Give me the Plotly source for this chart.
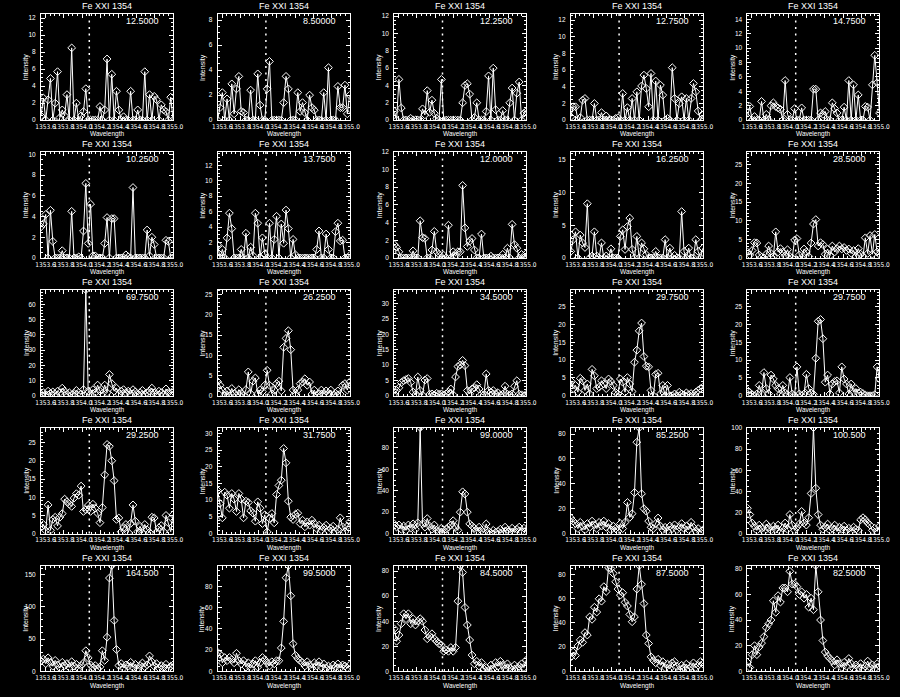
import plotly.graph_objects as go

# ---------------- data ----------------
WAVELENGTH = [
    1353.5500, 1353.5759, 1353.6018, 1353.6277, 1353.6536, 1353.6795, 1353.7054, 1353.7313, 1353.7571, 1353.7830,
    1353.8089, 1353.8348, 1353.8607, 1353.8866, 1353.9125, 1353.9384, 1353.9643, 1353.9902, 1354.0161, 1354.0420,
    1354.0679, 1354.0938, 1354.1196, 1354.1455, 1354.1714, 1354.1973, 1354.2232, 1354.2491, 1354.2750, 1354.3009,
    1354.3268, 1354.3527, 1354.3786, 1354.4045, 1354.4304, 1354.4563, 1354.4821, 1354.5080, 1354.5339, 1354.5598,
    1354.5857, 1354.6116, 1354.6375, 1354.6634, 1354.6893, 1354.7152, 1354.7411, 1354.7670, 1354.7929, 1354.8188,
    1354.8446, 1354.8705, 1354.8964, 1354.9223, 1354.9482, 1354.9741, 1355.0000,
]

X_RANGE = [1353.55, 1355.0]
X_TICKS = [1353.6, 1353.8, 1354.0, 1354.2, 1354.4, 1354.6, 1354.8, 1355.0]
X_TICK_LABELS = ["1353.6", "1353.8", "1354.0", "1354.2", "1354.4", "1354.6", "1354.8", "1355.0"]
REST_WAVELENGTH = 1354.08
PANEL_TITLE = "Fe XXI 1354"
X_TITLE = "Wavelength"
Y_TITLE = "Intensity"

PEAKS = [12.5, 8.5, 12.25, 12.75, 14.75,
         10.25, 13.75, 12.0, 16.25, 28.5,
         69.75, 26.25, 34.5, 29.75, 29.75,
         29.25, 31.75, 99.0, 85.25, 100.5,
         164.5, 99.5, 84.5, 87.5, 82.5]
Y_DTICK = [2, 2, 2, 2, 2,
           2, 2, 2, 5, 5,
           10, 5, 5, 5, 5,
           5, 5, 20, 20, 20,
           50, 20, 20, 20, 20]

INTENSITY_R1C1 = [0.5, 2.6, 0, 2.4, 4.9, 0, 2.0, 5.7, 0.3, 1.2,
                  0.5, 3.0, 0, 8.5, 0, 2.0, 0, 0.5, 1.0, 3.7,
                  0, 0, 0, 0, 0, 1.6, 0, 1.2, 7.2, 0,
                  5.4, 0, 3.4, 1.2, 0, 0.4, 0, 0, 3.4, 0,
                  0, 1.2, 0, 0, 5.7, 0, 3.0, 0, 2.8, 2.4,
                  0, 1.8, 1.2, 1.0, 0, 2.7, 0]
INTENSITY_R1C2 = [0, 1.0, 2.2, 0, 1.7, 0, 2.9, 0.5, 2.5, 3.5,
                  0.7, 0.6, 0, 0, 2.4, 0, 0, 3.7, 1.2, 0,
                  0, 2.5, 4.7, 0, 0, 0, 0, 0, 1.4, 3.5,
                  2.5, 0, 0, 0, 2.2, 0.7, 1.4, 0.6, 0, 2.0,
                  1.0, 0.8, 0, 0, 0, 2.2, 0, 4.2, 0, 0,
                  0, 2.7, 1.0, 1.0, 2.8, 0.5, 2.0]
INTENSITY_R1C3 = [1.0, 0, 4.7, 1.4, 0, 0, 0, 0.2, 0, 0,
                  0, 0, 1.3, 0.6, 3.4, 0.9, 2.3, 0.8, 0.2, 0,
                  4.7, 0, 0, 0, 0, 0, 0, 0, 0, 2.0,
                  4.0, 4.2, 3.0, 0, 0.3, 2.0, 0, 0, 0, 1.0,
                  5.1, 0, 6.0, 1.2, 0, 0, 1.1, 0, 0, 2.0,
                  3.7, 0, 3.1, 4.4, 0, 0.8, 1.0]
INTENSITY_R1C4 = [0.4, 1.6, 1.6, 0, 0.3, 2.4, 2.6, 0, 0, 0,
                  2.0, 0, 0, 0.9, 0, 0.5, 0, 0, 0, 0.2,
                  0.3, 0, 3.2, 0, 1.5, 0, 2.6, 0, 3.4, 0,
                  4.1, 5.4, 3.8, 1.6, 5.6, 0, 4.7, 0, 4.2, 3.0,
                  0, 0.2, 0, 6.3, 2.6, 0, 2.0, 2.8, 0, 2.6,
                  0, 2.6, 4.4, 3.4, 1.1, 0, 0.6]
INTENSITY_R1C5 = [0.4, 1.9, 0, 0.5, 0, 0, 2.6, 0, 0.8, 0,
                  2.0, 2.4, 1.9, 1.7, 1.5, 0, 5.5, 0.8, 0, 0,
                  1.6, 0, 0, 1.7, 0, 0, 0, 0, 4.3, 4.3,
                  0, 1.0, 0.8, 1.2, 0, 0, 2.4, 1.6, 1.0, 0,
                  0, 1.8, 0, 5.5, 0, 4.9, 0, 3.5, 0, 0,
                  1.9, 1.8, 0, 4.9, 9.0, 5.2, 1.0]

INTENSITY_R2C1 = [3.0, 3.3, 4.2, 0, 4.6, 1.6, 0, 0, 0, 0.7,
                  0, 0, 0, 4.5, 0, 0, 0.1, 0, 2.6, 7.2,
                  1.4, 5.2, 0.2, 0.2, 0, 0, 0, 1.4, 3.9, 0,
                  3.8, 3.8, 0, 0, 0, 0, 0.3, 0.1, 0, 6.8,
                  0, 0, 0, 0, 0, 2.7, 0.2, 2.0, 1.3, 0,
                  0, 0, 0, 1.7, 1.6, 0, 0]
INTENSITY_R2C2 = [1.7, 0, 1.1, 0, 2.6, 5.8, 3.8, 0, 0, 0,
                  1.1, 0, 3.2, 0, 1.4, 0.3, 5.8, 4.5, 0, 2.6,
                  0.5, 0, 4.5, 0, 2.4, 5.4, 0, 4.4, 1.9, 6.2,
                  3.8, 0, 2.4, 0.4, 0, 0, 0, 0, 0, 0,
                  0, 0, 1.1, 3.5, 0, 0, 3.1, 1.1, 0, 0,
                  3.4, 4.5, 2.2, 2.3, 0, 0, 0.3]
INTENSITY_R2C3 = [1.5, 1.2, 0.7, 0, 0, 0, 0, 0, 0.8, 0,
                  0, 4.2, 2.3, 2.2, 0, 0, 0.9, 3.0, 0.7, 0.4,
                  0, 0.3, 0, 3.7, 0, 0.7, 0.2, 0.7, 0.7, 8.2,
                  3.4, 1.3, 1.9, 2.2, 0.9, 0, 0, 2.7, 0, 0,
                  0, 0.2, 0, 0, 0, 0, 0.4, 0, 1.1, 0,
                  3.8, 1.5, 1.1, 0, 0.4, 0, 0.5]
INTENSITY_R2C4 = [1.0, 2.8, 4.0, 0, 3.5, 2.3, 1.6, 8.3, 0, 0.3,
                  4.0, 0.3, 0, 2.3, 0, 0.3, 0, 1.4, 0, 0,
                  0, 3.3, 4.3, 1.3, 4.8, 6.1, 1.3, 0, 3.3, 0,
                  2.3, 1.4, 0.5, 0, 0, 0, 1.0, 0, 0, 0,
                  2.8, 0, 1.5, 0, 0.4, 0, 0, 7.1, 1.0, 0,
                  1.5, 0, 0, 2.8, 1.0, 0, 1.5]
INTENSITY_R2C5 = [1.6, 0.8, 2.0, 4.1, 4.0, 0.8, 0.2, 0, 1.0, 3.2,
                  1.2, 0.4, 7.0, 1.6, 2.5, 1.6, 0.6, 2.2, 0.4, 0,
                  4.8, 5.2, 0.8, 0, 2.4, 1.6, 0.4, 4.0, 9.1, 10.3,
                  3.2, 4.1, 3.6, 1.0, 2.4, 0.6, 3.2, 1.6, 2.5, 3.2,
                  2.4, 2.8, 2.0, 2.4, 1.2, 2.0, 0.4, 2.5, 1.0, 0.4,
                  5.4, 1.2, 6.0, 1.0, 6.3, 1.6, 1.0]

INTENSITY_R3C1 = [1, 2, 0.5, 3, 1.5, 2.5, 1, 3, 2, 5,
                  3, 1, 2, 0.5, 1.5, 3.5, 2, 1, 4, 69.75,
                  3, 1, 4, 2, 7, 3, 1.5, 7, 2, 14,
                  8, 3, 5, 1, 3, 4, 2, 3, 1, 4,
                  2.5, 0.5, 2, 3.5, 1, 2, 3, 5, 2, 1,
                  3, 2, 0.5, 4.5, 2, 1, 3]
INTENSITY_R3C2 = [3.5, 2.6, 1.4, 0, 1.2, 0, 1.8, 0.5, 0, 1.5,
                  0.6, 0, 1.5, 5.9, 0.5, 3.6, 4.4, 0.5, 1.4, 1.0,
                  2.6, 6.3, 2.6, 0.5, 1.4, 3.0, 3.6, 1.2, 12.0, 14.2,
                  16.1, 11.4, 1.4, 0.5, 1.4, 3.0, 3.4, 4.2, 2.6, 3.4,
                  0.4, 1.4, 0, 0.5, 1.4, 0.4, 1.2, 0.5, 1.4, 0,
                  0.6, 1.2, 0.4, 2.6, 3.0, 1.4, 3.4]
INTENSITY_R3C3 = [0.5, 1.7, 2.6, 4.3, 4.9, 5.3, 5.6, 4.3, 1.2, 0.3,
                  6.1, 1.7, 0.2, 5.1, 5.6, 0.5, 0.6, 0.3, 0.8, 0.5,
                  0.6, 0.3, 0.6, 1.2, 2.2, 0.3, 6.1, 9.5, 10.0, 11.5,
                  9.8, 1.7, 0.6, 2.2, 2.6, 3.6, 2.2, 0.5, 0.2, 7.1,
                  1.7, 1.2, 1.7, 0.6, 1.0, 0.2, 0.5, 3.1, 0.5, 0.3,
                  0.6, 3.1, 4.9, 0.5, 0.3, 0, 0.5]
INTENSITY_R3C4 = [4.2, 2.0, 2.9, 1.0, 4.9, 4.2, 1.5, 3.3, 0.5, 7.4,
                  5.6, 2.0, 2.4, 4.2, 3.3, 2.0, 4.7, 4.0, 2.9, 0.9,
                  0.5, 4.7, 3.8, 1.0, 5.1, 3.3, 1.2, 9.4, 12.8, 18.2,
                  20.4, 11.0, 8.3, 8.1, 1.5, 0, 6.0, 6.3, 0.5, 2.9,
                  0, 2.9, 0, 0, 0.5, 0, 1.0, 0.5, 0.2, 0.8,
                  0.3, 0.6, 0, 1.0, 1.5, 2.0, 2.4]
INTENSITY_R3C5 = [1.5, 0.9, 0.3, 0, 0.5, 2.9, 0.5, 6.5, 2.0, 0.6,
                  5.8, 4.7, 2.9, 2.0, 0.5, 2.9, 0.8, 0.3, 5.1, 0.5,
                  0, 8.1, 0.5, 0, 0.5, 6.0, 2.0, 0.8, 0.4, 10.5,
                  20.9, 21.4, 16.0, 3.8, 5.8, 0.5, 3.3, 4.0, 4.2, 0.8,
                  8.1, 4.7, 3.3, 0.5, 3.3, 1.0, 2.0, 0.8, 1.0, 0.6,
                  0.2, 0, 0, 0, 0.3, 8.1, 4.7]

INTENSITY_R4C1 = [1.8, 2.5, 0.8, 7.9, 0.9, 3.9, 4.5, 2.1, 4.5, 5.5,
                  9.5, 8.8, 8.1, 7.5, 9.8, 11.0, 10.6, 13.1, 6.1, 6.6,
                  7.8, 6.1, 8.1, 7.0, 5.6, 3.0, 7.2, 16.2, 24.6, 24.1,
                  20.1, 14.6, 3.9, 4.3, 0.5, 1.6, 2.5, 0.3, 2.8, 7.9,
                  3.4, 0.5, 2.0, 0.2, 2.5, 1.0, 0.3, 4.5, 4.3, 0.4,
                  1.6, 2.2, 0.5, 5.0, 3.0, 0.5, 5.2]
INTENSITY_R4C2 = [12.9, 9.0, 4.7, 12.4, 11.5, 7.6, 12.0, 10.3, 6.6, 12.0,
                  10.3, 4.7, 9.7, 9.3, 6.8, 6.1, 3.7, 9.5, 7.6, 3.0,
                  5.6, 0.5, 4.5, 6.0, 3.2, 11.7, 14.4, 16.0, 25.5, 21.2,
                  9.7, 4.9, 4.2, 5.8, 6.1, 3.0, 4.0, 2.0, 3.5, 2.5,
                  4.0, 3.0, 1.5, 2.5, 1.0, 1.8, 2.5, 0.8, 1.5, 2.2,
                  0.5, 1.2, 4.7, 2.0, 0.5, 2.2, 3.5]
INTENSITY_R4C3 = [9, 6, 8, 4, 7, 3, 8, 5, 9, 4,
                  10, 99.0, 9, 6, 14, 7, 4, 8, 3, 2,
                  5, 1, 4, 6, 8, 12, 6, 3, 20, 39,
                  37, 20, 9, 7, 5, 2, 6, 3, 1, 9,
                  2, 0.5, 3, 1, 2, 4, 1, 6, 3, 2,
                  5, 1, 4, 6, 2, 5, 3]
INTENSITY_R4C4 = [12.5, 10, 8, 4, 9, 6, 3, 8, 5, 10,
                  7, 4, 9, 6, 10, 5, 8, 3, 6, 4,
                  2, 8, 4, 9, 25, 13, 16, 33, 73.5, 85.25,
                  32, 20, 18, 10, 5, 4, 8, 12.5, 6, 3,
                  5, 2, 6, 4, 7, 3, 5, 8, 4, 6,
                  3, 9, 5, 2, 4, 1, 3]
INTENSITY_R4C5 = [24, 18, 10, 7, 3, 8, 5, 2, 9, 6,
                  3, 7, 4, 8, 2, 5, 10, 4, 18, 8,
                  3, 6, 9, 21, 10, 8, 15, 38, 100.5, 43,
                  18, 8, 4, 6, 9, 3, 5, 8, 2, 6,
                  4, 7, 3, 5, 2, 6, 4, 3, 13, 15,
                  13, 10, 8, 3, 5, 2, 7]

INTENSITY_R5C1 = [16, 19, 12, 21, 14, 8, 17, 10, 5, 14,
                  9, 12, 6, 15, 8, 11, 4, 9, 13, 32,
                  21, 10, 6, 9, 4, 7, 32, 17, 53, 145,
                  164.5, 79, 34, 9, 12, 5, 10, 8, 14, 6,
                  11, 4, 9, 13, 7, 10, 24, 15, 8, 12,
                  5, 9, 6, 11, 4, 8, 10]
INTENSITY_R5C2 = [18, 16, 8, 13, 10, 13, 11, 8, 17, 10,
                  7, 10, 4, 8, 3, 7, 10, 4, 8, 13,
                  11, 8, 5, 9, 7, 10, 10, 22, 47, 88,
                  99.5, 71, 26, 15, 12, 10, 8, 5, 9, 6,
                  3, 8, 5, 9, 4, 7, 3, 5, 2, 6,
                  4, 7, 3, 6, 5, 3, 6]
INTENSITY_R5C3 = [34, 24, 29, 38, 46, 42, 46, 38, 42, 37,
                  40, 42, 40, 33, 26, 28, 30, 26, 24, 22,
                  21, 16, 17, 16, 19, 16, 19, 56, 84.5, 79,
                  51, 37, 25, 13, 6, 8, 4, 7, 2, 3,
                  0.5, 5, 2, 7, 4, 8, 5, 2, 6, 3,
                  1, 5, 2, 4, 6, 3, 9]
INTENSITY_R5C4 = [12, 16, 13, 21, 26, 24, 32, 30, 45, 43,
                  53, 49, 60, 58, 70, 66, 85.5, 85, 81, 74,
                  68, 63, 65, 57, 54, 47, 41, 45, 68, 87.5,
                  72, 56, 30, 23, 12, 9, 7, 10, 5, 8,
                  3, 6, 2, 7, 8, 4, 1, 5, 3, 6,
                  2, 4, 7, 3, 5, 8, 6]
INTENSITY_R5C5 = [7, 3, 13, 20, 13, 19, 22, 27, 34, 37,
                  40, 55, 46, 59, 54, 65, 65, 62, 78, 68,
                  68, 66, 60, 62, 57, 60, 50, 57, 48, 82.5,
                  62, 40, 24, 15, 12, 10, 8, 5, 9, 6,
                  3, 7, 4, 10, 6, 2, 5, 3, 6, 2,
                  4, 8, 3, 5, 2, 6, 4]

PANELS = [
    INTENSITY_R1C1, INTENSITY_R1C2, INTENSITY_R1C3, INTENSITY_R1C4, INTENSITY_R1C5,
    INTENSITY_R2C1, INTENSITY_R2C2, INTENSITY_R2C3, INTENSITY_R2C4, INTENSITY_R2C5,
    INTENSITY_R3C1, INTENSITY_R3C2, INTENSITY_R3C3, INTENSITY_R3C4, INTENSITY_R3C5,
    INTENSITY_R4C1, INTENSITY_R4C2, INTENSITY_R4C3, INTENSITY_R4C4, INTENSITY_R4C5,
    INTENSITY_R5C1, INTENSITY_R5C2, INTENSITY_R5C3, INTENSITY_R5C4, INTENSITY_R5C5,
]

# ---------------- layout ----------------
FIG_W, FIG_H = 900, 697
FONT = "Liberation Sans, Arial, Helvetica, sans-serif"
NARROW = "Liberation Sans Narrow, DejaVu Sans Condensed, Liberation Sans, sans-serif"
WHITE = "white"


def idl_string(v):
    n_int = len(str(int(abs(v))))
    return f"{v:.{max(6 - n_int, 0)}f}"


def minor_step(dt):
    return dt / 4 if dt in (2, 20) else dt / 5


fig = go.Figure()
layout = {}
annotations = []
shapes = []

for k, (vals, peak, dt) in enumerate(zip(PANELS, PEAKS, Y_DTICK)):
    r, c = divmod(k, 5)
    left = 35.7 + 180 * c
    right = 170.3 + 180 * c
    top = 10.0 + 139.3 * r
    bottom = 117.3 + 139.2 * r
    xd = [left / FIG_W, right / FIG_W]
    yd = [1 - bottom / FIG_H, 1 - top / FIG_H]
    sfx = "" if k == 0 else str(k + 1)

    fig.add_trace(go.Scatter(
        x=WAVELENGTH, y=vals, xaxis="x" + sfx, yaxis="y" + sfx,
        mode="lines+markers",
        line=dict(color=WHITE, width=1),
        marker=dict(symbol="diamond-open", size=6, color=WHITE,
                    line=dict(width=1, color=WHITE)),
        showlegend=False, hoverinfo="skip",
    ))

    layout["xaxis" + sfx] = dict(
        domain=xd, anchor="y" + sfx, range=X_RANGE,
        tickmode="array", tickvals=X_TICKS, ticktext=X_TICK_LABELS,
        ticks="inside", ticklen=4, tickwidth=1, tickcolor=WHITE,
        showline=True, linecolor=WHITE, linewidth=1, mirror="allticks",
        showgrid=False, zeroline=False, tickangle=0,
        tickfont=dict(family=NARROW, size=6.5, color=WHITE),
        minor=dict(tickmode="linear", tick0=1353.6, dtick=0.05, ticks="inside",
                   ticklen=2, tickcolor=WHITE, showgrid=False),
        fixedrange=True,
    )
    layout["yaxis" + sfx] = dict(
        domain=yd, anchor="x" + sfx, range=[0, peak],
        tickmode="linear", tick0=0, dtick=dt,
        ticks="inside", ticklen=4, tickwidth=1, tickcolor=WHITE,
        showline=True, linecolor=WHITE, linewidth=1, mirror="allticks",
        showgrid=False, zeroline=False,
        tickfont=dict(family=FONT, size=6.5, color=WHITE),
        ticklabelstandoff=3,
        minor=dict(tickmode="linear", tick0=0, dtick=minor_step(dt), ticks="inside",
                   ticklen=2, tickcolor=WHITE, showgrid=False),
        fixedrange=True,
    )

    shapes.append(dict(
        type="line", xref="x" + sfx, yref="y" + sfx + " domain",
        x0=REST_WAVELENGTH, x1=REST_WAVELENGTH, y0=0, y1=1,
        line=dict(color=WHITE, width=1.5, dash="2px,4.5px"),
    ))

    cx = (left + right) / 2
    cy = (top + bottom) / 2
    annotations.append(dict(
        text=PANEL_TITLE, xref="paper", yref="paper",
        x=cx / FIG_W, y=1 - (top - 1) / FIG_H, xanchor="center", yanchor="bottom",
        showarrow=False, font=dict(family=FONT, size=9, color=WHITE),
    ))
    annotations.append(dict(
        text=idl_string(peak), xref="paper", yref="paper",
        x=(right - 12) / FIG_W, y=1 - (top + 7.5) / FIG_H, xanchor="right", yanchor="middle",
        showarrow=False, font=dict(family=FONT, size=9, color=WHITE),
    ))
    annotations.append(dict(
        text=Y_TITLE, xref="paper", yref="paper",
        x=(left - 15) / FIG_W, y=1 - cy / FIG_H, xanchor="center", yanchor="middle",
        textangle=-90, showarrow=False, font=dict(family=FONT, size=7, color=WHITE),
    ))
    annotations.append(dict(
        text=X_TITLE, xref="paper", yref="paper",
        x=cx / FIG_W, y=1 - (bottom + 14.5) / FIG_H, xanchor="center", yanchor="middle",
        showarrow=False, font=dict(family=FONT, size=6.5, color=WHITE),
    ))

fig.update_layout(
    width=FIG_W, height=FIG_H,
    margin=dict(l=0, r=0, t=0, b=0),
    paper_bgcolor="black", plot_bgcolor="black",
    showlegend=False,
    annotations=annotations, shapes=shapes,
    **layout,
)

fig.write_html(
    "out.html",
    config={"displayModeBar": False},
    post_script="document.body.style.margin='0';document.body.style.background='black';",
)
